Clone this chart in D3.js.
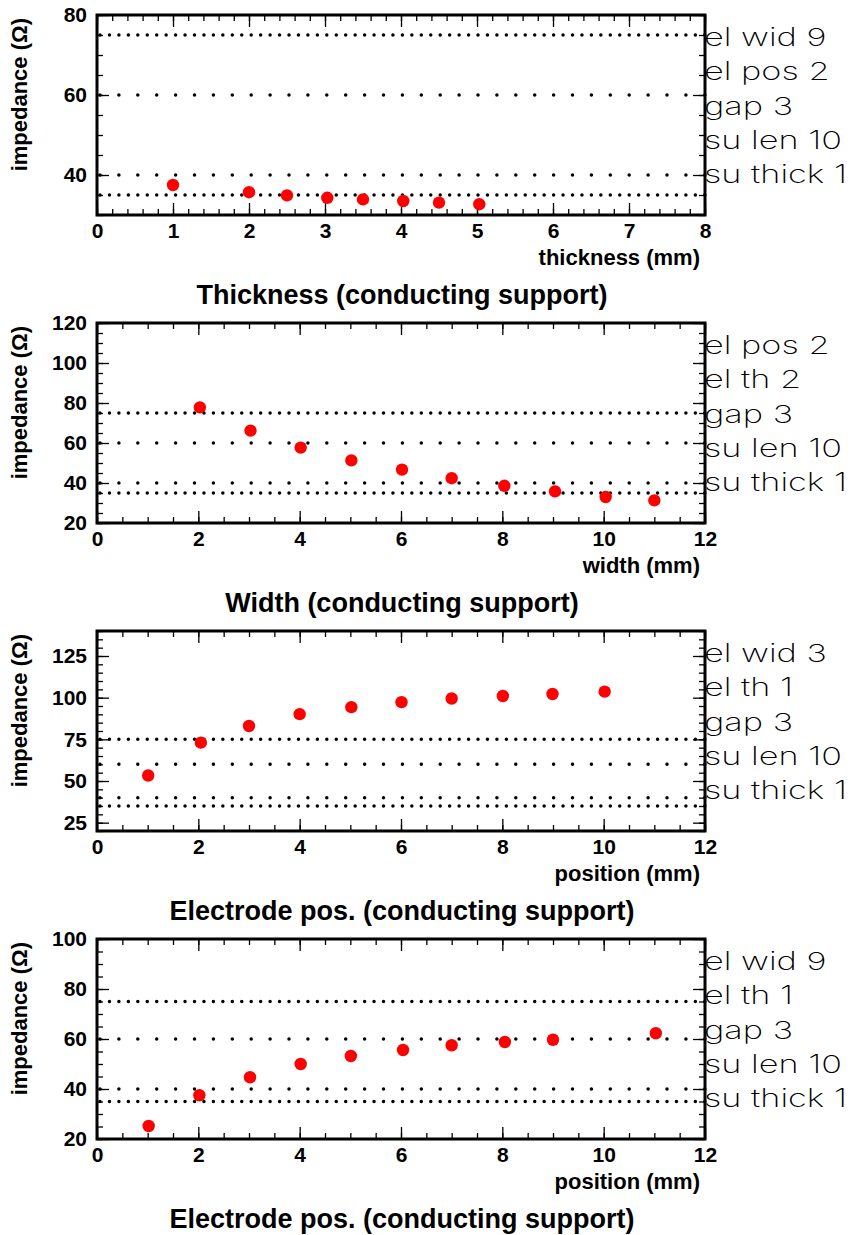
<!DOCTYPE html>
<html>
<head>
<meta charset="utf-8">
<script src="https://cdn.jsdelivr.net/npm/d3@7"></script>
<style>
  html, body { margin: 0; padding: 0; background: #fff; }
  svg { display: block; }
  .tick text { font-family: "Liberation Sans", Arial, sans-serif; font-weight: bold; }
</style>
</head>
<body>
<svg id="chart" width="854" height="1235"></svg>
<script>
// Impedance scans with a conducting support
const thicknessX = [1, 2, 2.5, 3.03, 3.5, 4.03, 4.5, 5.03];
const thicknessZ = [37.5, 35.7, 34.9, 34.3, 33.9, 33.5, 33.1, 32.7];

const widthX = [2.03, 3.03, 4.02, 5.02, 6.02, 7.0, 8.04, 9.04, 10.04, 11.0];
const widthZ = [77.8, 66.2, 57.7, 51.3, 46.7, 42.4, 38.6, 35.8, 33.0, 31.3];

const posAX = [1.01, 2.05, 3.0, 4.0, 5.02, 6.01, 7.0, 8.01, 8.99, 10.02];
const posAZ = [53.3, 73.0, 83.0, 90.1, 94.3, 97.3, 99.5, 101.0, 102.2, 103.6];

const posBX = [1.02, 2.02, 3.02, 4.02, 5.01, 6.04, 7.0, 8.05, 9.0, 11.03];
const posBZ = [25.2, 37.5, 44.7, 50.0, 53.2, 55.6, 57.5, 58.8, 59.7, 62.3];

// reference impedance levels
const refLevels = [75, 60, 40, 35];

// fixed parameters per scan
const notesThickness = ["el wid 9", "el pos 2", "gap 3", "su len 10", "su thick 1"];
const notesWidth = ["el pos 2", "el th 2", "gap 3", "su len 10", "su thick 1"];
const notesPosA = ["el wid 3", "el th 1", "gap 3", "su len 10", "su thick 1"];
const notesPosB = ["el wid 9", "el th 1", "gap 3", "su len 10", "su thick 1"];

// axis ranges and tick labels
const xTicksThickness = [0, 1, 2, 3, 4, 5, 6, 7, 8];
const xTicksMm = [0, 2, 4, 6, 8, 10, 12];
const yTicksThickness = [40, 60, 80];
const yTicksWidth = [20, 40, 60, 80, 100, 120];
const yTicksPosA = [25, 50, 75, 100, 125];
const yTicksPosB = [20, 40, 60, 80, 100];

const panels = [
  { x: thicknessX, z: thicknessZ, xDomain: [0, 8], yDomain: [30, 80], xTicks: xTicksThickness, xMinor: 0.2,
    yTicks: yTicksThickness, yMinor: 5, xTitle: "thickness (mm)", title: "Thickness (conducting support)", notes: notesThickness },
  { x: widthX, z: widthZ, xDomain: [0, 12], yDomain: [20, 120], xTicks: xTicksMm, xMinor: 0.5,
    yTicks: yTicksWidth, yMinor: 5, xTitle: "width (mm)", title: "Width (conducting support)", notes: notesWidth },
  { x: posAX, z: posAZ, xDomain: [0, 12], yDomain: [20, 140], xTicks: xTicksMm, xMinor: 0.5,
    yTicks: yTicksPosA, yMinor: 5, xTitle: "position (mm)", title: "Electrode pos. (conducting support)", notes: notesPosA },
  { x: posBX, z: posBZ, xDomain: [0, 12], yDomain: [20, 100], xTicks: xTicksMm, xMinor: 0.5,
    yTicks: yTicksPosB, yMinor: 5, xTitle: "position (mm)", title: "Electrode pos. (conducting support)", notes: notesPosB }
];

const svg = d3.select("#chart");
const frameLeft = 97, frameRight = 705, frameH = 200, panelStep = 308, firstTop = 15;
const majorLen = 12, minorLen = 6;
const boldFont = "Liberation Sans, Arial, sans-serif";
const thinFont = "Inter, Roboto, 'DejaVu Sans', sans-serif";
const noteSize = 25;

function range(a, b, step) {
  const out = [];
  const n = Math.round((b - a) / step);
  for (let i = 0; i <= n; i++) out.push(+(a + i * step).toFixed(6));
  return out;
}

// horizontal stretch for the wide, light parameter font
const probe = svg.append("text")
  .attr("font-family", thinFont).attr("font-weight", 200).attr("font-size", noteSize)
  .text("su thick 1");
const noteStretch = 143 / probe.node().getComputedTextLength();
probe.remove();

panels.forEach((p, i) => {
  const top = firstTop + i * panelStep;
  const bottom = top + frameH;
  const x = d3.scaleLinear().domain(p.xDomain).range([frameLeft, frameRight]);
  const y = d3.scaleLinear().domain(p.yDomain).range([bottom, top]);
  const g = svg.append("g");

  const xMinorTicks = range(p.xDomain[0], p.xDomain[1], p.xMinor);
  const yMinorTicks = range(p.yDomain[0], p.yDomain[1], p.yMinor);

  // reference levels as dotted lines
  refLevels.forEach((lvl, k) => {
    const dense = (k === 0 || k === 3);
    g.append("line")
      .attr("x1", frameLeft + 3).attr("x2", frameRight)
      .attr("y1", y(lvl)).attr("y2", y(lvl))
      .attr("stroke", "#000").attr("stroke-width", 3.5)
      .attr("stroke-linecap", "round")
      .attr("stroke-dasharray", dense ? "0 9.45" : "0 18.9");
  });

  const axStyle = sel => sel.call(s => s.select(".domain").remove())
    .call(s => s.selectAll(".tick line").attr("stroke", "#000").attr("stroke-width", 1.3));

  // minor ticks on all four sides
  g.append("g").attr("transform", `translate(0,${bottom})`)
    .call(d3.axisBottom(x).tickValues(xMinorTicks).tickSize(-minorLen).tickFormat(""))
    .call(axStyle);
  g.append("g").attr("transform", `translate(0,${top})`)
    .call(d3.axisTop(x).tickValues(xMinorTicks).tickSize(-minorLen).tickFormat(""))
    .call(axStyle);
  g.append("g").attr("transform", `translate(${frameLeft},0)`)
    .call(d3.axisLeft(y).tickValues(yMinorTicks).tickSize(-minorLen).tickFormat(""))
    .call(axStyle);
  g.append("g").attr("transform", `translate(${frameRight},0)`)
    .call(d3.axisRight(y).tickValues(yMinorTicks).tickSize(-minorLen).tickFormat(""))
    .call(axStyle);

  // major ticks with labels
  g.append("g").attr("transform", `translate(0,${bottom})`)
    .call(d3.axisBottom(x).tickValues(p.xTicks).tickSize(-majorLen).tickPadding(8).tickFormat(d3.format("d")))
    .call(axStyle)
    .call(s => s.selectAll(".tick text").attr("font-size", 21).attr("fill", "#000").attr("dy", "0.72em"));
  g.append("g").attr("transform", `translate(0,${top})`)
    .call(d3.axisTop(x).tickValues(p.xTicks).tickSize(-majorLen).tickFormat(""))
    .call(axStyle);
  g.append("g").attr("transform", `translate(${frameLeft},0)`)
    .call(d3.axisLeft(y).tickValues(p.yTicks).tickSize(-majorLen).tickPadding(10).tickFormat(d3.format("d")))
    .call(axStyle)
    .call(s => s.selectAll(".tick text").attr("font-size", 21).attr("fill", "#000"));
  g.append("g").attr("transform", `translate(${frameRight},0)`)
    .call(d3.axisRight(y).tickValues(p.yTicks).tickSize(-majorLen).tickFormat(""))
    .call(axStyle);

  // frame
  g.append("rect")
    .attr("x", frameLeft).attr("y", top)
    .attr("width", frameRight - frameLeft).attr("height", frameH)
    .attr("fill", "none").attr("stroke", "#000").attr("stroke-width", 3);

  // measured points
  g.selectAll("circle.pt").data(p.x.map((v, k) => [v, p.z[k]]))
    .join("circle").attr("class", "pt")
    .attr("cx", d => x(d[0])).attr("cy", d => y(d[1]))
    .attr("r", 6.2).attr("fill", "#ff0000");

  // axis titles
  g.append("text")
    .attr("x", 700).attr("y", bottom + 50)
    .attr("text-anchor", "end")
    .attr("font-family", boldFont).attr("font-weight", "bold")
    .attr("font-size", 22).text(p.xTitle);

  g.append("text")
    .attr("transform", `translate(27,${top + 3}) rotate(-90)`)
    .attr("text-anchor", "end")
    .attr("font-family", boldFont).attr("font-weight", "bold")
    .attr("font-size", 22).text("impedance (\u03A9)");

  g.append("text")
    .attr("x", 402).attr("y", bottom + 89)
    .attr("text-anchor", "middle")
    .attr("font-family", boldFont).attr("font-weight", "bold")
    .attr("font-size", 27).text(p.title);

  // fixed parameters listed to the right
  g.selectAll("text.note").data(p.notes)
    .join("text").attr("class", "note")
    .attr("transform", (d, k) => `translate(${frameRight - 1},${top + 31 + k * 34.3}) scale(${noteStretch},1)`)
    .attr("font-family", thinFont)
    .attr("font-weight", 200)
    .attr("font-size", noteSize)
    .attr("fill", "#000")
    .text(d => d);
});
</script>
</body>
</html>
